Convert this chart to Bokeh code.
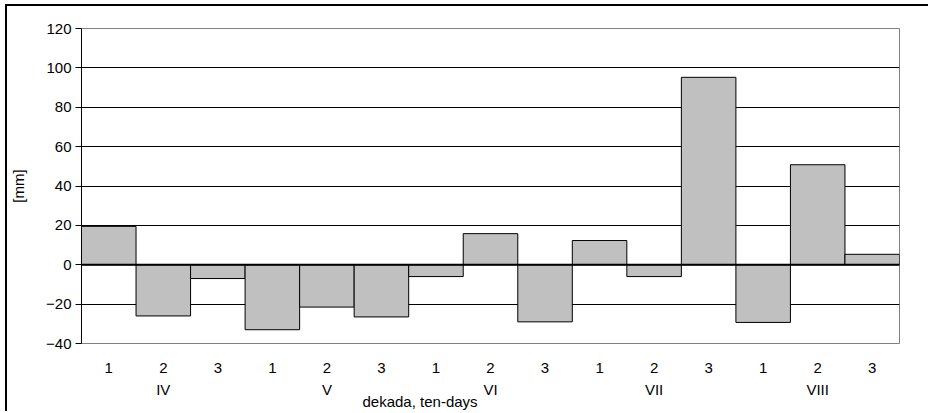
from bokeh.plotting import figure
from bokeh.models import FactorRange, Range1d, FixedTicker, Span, Title
from bokeh.embed import file_html
from bokeh.resources import INLINE

months = ["IV", "V", "VI", "VII", "VIII"]
dekads = ["1", "2", "3"]
values = [19.5, -26, -7, -33, -21.5, -26.5, -6, 15.8, -29, 12.3, -6, 95.2, -29.3, 50.8, 5.3]
y_ticks = [-40, -20, 0, 20, 40, 60, 80, 100, 120]
grid_ticks = [-20, 20, 40, 60, 80, 100]
x_title = "dekada, ten-days"
y_title = "[mm]"

factors = [(m, d) for m in months for d in dekads]

FONT = "Liberation Sans"

p = figure(
    x_range=FactorRange(*factors, factor_padding=0, group_padding=0, subgroup_padding=0, range_padding=0),
    y_range=Range1d(-40, 120),
    width=923, height=407,
    output_backend="svg", toolbar_location=None,
    min_border_left=73, min_border_right=31, min_border_top=22, min_border_bottom=70,
)
p.styles = {"border-left": "2px solid black", "border-top": "2px solid black",
            "margin-left": "5px", "margin-top": "4px"}
p.background_fill_color = "white"
p.border_fill_color = "white"
p.outline_line_color = "#808080"
p.outline_line_width = 1

p.vbar(x=factors, top=values, bottom=0, width=1.0,
       fill_color="#C0C0C0", line_color="black", line_width=1)

p.add_layout(Span(location=0, dimension="width", line_color="black", line_width=2))

p.xgrid.grid_line_color = None
p.ygrid.ticker = FixedTicker(ticks=grid_ticks)
p.ygrid.grid_line_color = "black"
p.ygrid.grid_line_width = 1

p.yaxis.ticker = FixedTicker(ticks=y_ticks)
p.yaxis.minor_tick_line_color = None
p.yaxis.major_tick_out = 6
p.yaxis.major_tick_in = 0
p.yaxis.axis_line_color = "black"
p.yaxis.major_tick_line_color = "black"
p.yaxis.major_label_text_font = FONT
p.yaxis.major_label_text_font_size = "15px"
p.yaxis.major_label_text_color = "black"
p.yaxis.major_label_standoff = 4
p.yaxis.axis_label = y_title
p.yaxis.axis_label_text_font = FONT
p.yaxis.axis_label_text_font_size = "15px"
p.yaxis.axis_label_text_font_style = "normal"
p.yaxis.axis_label_text_color = "black"
p.yaxis.axis_label_standoff = 16

p.xaxis.axis_line_color = None
p.xaxis.major_tick_line_color = None
p.xaxis.minor_tick_line_color = None
p.xaxis.major_tick_out = 14
p.xaxis.major_tick_in = 0
p.xaxis.separator_line_color = None
p.xaxis.major_label_text_font = FONT
p.xaxis.major_label_text_font_size = "15px"
p.xaxis.major_label_text_color = "black"
p.xaxis.group_text_font = FONT
p.xaxis.group_text_font_size = "15px"
p.xaxis.group_text_font_style = "normal"
p.xaxis.group_text_color = "black"
p.xaxis.major_label_standoff = 5

p.add_layout(Title(text=x_title, align="left", offset=281, standoff=-19,
                   text_font=FONT, text_font_size="15px", text_font_style="normal",
                   text_color="black"), "below")

open("out.html", "w").write(file_html(p, INLINE))
